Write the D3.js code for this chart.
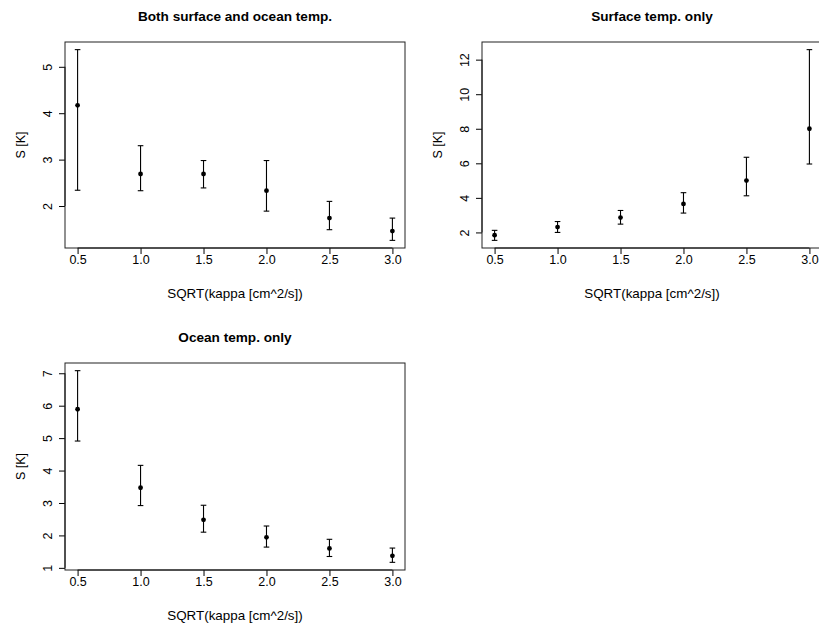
<!DOCTYPE html>
<html>
<head>
<meta charset="utf-8">
<script src="https://cdn.jsdelivr.net/npm/d3@7"></script>
<style>
  html, body { margin: 0; padding: 0; background: #fff; }
  svg { display: block; }
  text { font-family: "Liberation Sans", Arial, Helvetica, sans-serif; fill: #000; }
</style>
</head>
<body>
<svg id="fig" width="819" height="626"></svg>
<script>
// Diffusivity settings (x) shared by all three panels
const kappaSqrt = [0.5, 1.0, 1.5, 2.0, 2.5, 3.0];
const xTicks = [0.5, 1.0, 1.5, 2.0, 2.5, 3.0];

// Both surface and ocean temperature
const bothMid   = [4.17, 2.69, 2.69, 2.33, 1.74, 1.46];
const bothLow   = [2.34, 2.33, 2.39, 1.89, 1.49, 1.26];
const bothHigh  = [5.37, 3.30, 2.98, 2.98, 2.10, 1.74];
const bothTicks = [2, 3, 4, 5];

// Surface temperature only
const surfMid   = [1.84, 2.31, 2.86, 3.65, 5.00, 8.00];
const surfLow   = [1.54, 2.00, 2.48, 3.12, 4.12, 5.96];
const surfHigh  = [2.12, 2.63, 3.27, 4.30, 6.35, 12.58];
const surfTicks = [2, 4, 6, 8, 10, 12];

// Ocean temperature only
const oceanMid   = [5.89, 3.47, 2.48, 1.94, 1.60, 1.37];
const oceanLow   = [4.91, 2.92, 2.10, 1.64, 1.35, 1.17];
const oceanHigh  = [7.08, 4.16, 2.93, 2.29, 1.88, 1.61];
const oceanTicks = [1, 2, 3, 4, 5, 6, 7];

const titles = ["Both surface and ocean temp.", "Surface temp. only", "Ocean temp. only"];
const xLabel = "SQRT(kappa [cm^2/s])";
const yLabel = "S [K]";

const panels = [
  { title: titles[0], mid: bothMid,  low: bothLow,  high: bothHigh,  ticks: bothTicks,  x0: 65,  y0: 42,  w: 340, h: 206 },
  { title: titles[1], mid: surfMid,  low: surfLow,  high: surfHigh,  ticks: surfTicks,  x0: 482, y0: 42,  w: 340, h: 206 },
  { title: titles[2], mid: oceanMid, low: oceanLow, high: oceanHigh, ticks: oceanTicks, x0: 65,  y0: 363, w: 340, h: 207 }
];

const svg = d3.select("#fig");

// R-style axis range: data extent widened by 4% on each side
function padded(lo, hi) {
  const d = (hi - lo) * 0.04;
  return [lo - d, hi + d];
}

panels.forEach(p => {
  const g = svg.append("g").attr("transform", `translate(${p.x0},${p.y0})`);

  const x = d3.scaleLinear().domain(padded(d3.min(kappaSqrt), d3.max(kappaSqrt))).range([0, p.w]);
  const y = d3.scaleLinear().domain(padded(d3.min(p.low), d3.max(p.high))).range([p.h, 0]);

  // x axis
  const xAxis = d3.axisBottom(x).tickValues(xTicks).tickFormat(d3.format(".1f")).tickSize(6).tickPadding(3);
  const gx = g.append("g").attr("transform", `translate(0,${p.h})`).call(xAxis);
  gx.select(".domain").attr("d", `M${x(xTicks[0])},0H${x(xTicks[xTicks.length - 1])}`).attr("stroke", "#000");
  gx.selectAll(".tick line").attr("stroke", "#000");
  gx.selectAll(".tick text")
    .attr("font-family", "Liberation Sans, Arial, sans-serif")
    .attr("font-size", 12.5).attr("fill", "#000")
    .attr("dy", null).attr("y", 16);

  // y axis with labels turned parallel to the axis
  const yAxis = d3.axisLeft(y).tickValues(p.ticks).tickFormat(d3.format("d")).tickSize(6);
  const gy = g.append("g").call(yAxis);
  gy.select(".domain").attr("d", `M0,${y(p.ticks[0])}V${y(p.ticks[p.ticks.length - 1])}`).attr("stroke", "#000");
  gy.selectAll(".tick line").attr("stroke", "#000");
  gy.selectAll(".tick text")
    .attr("font-family", "Liberation Sans, Arial, sans-serif")
    .attr("font-size", 12.5).attr("fill", "#000")
    .attr("x", null).attr("dy", null)
    .attr("text-anchor", "middle")
    .attr("transform", "translate(-13.3,0) rotate(-90)");

  // plot frame
  g.append("rect")
    .attr("x", 0).attr("y", 0).attr("width", p.w).attr("height", p.h)
    .attr("fill", "none").attr("stroke", "#222").attr("stroke-width", 1);

  // error bars
  const idx = d3.range(kappaSqrt.length);
  const bars = g.append("g").attr("stroke", "#000").attr("stroke-width", 1.1);
  bars.selectAll("line.v").data(idx).join("line").attr("class", "v")
    .attr("x1", i => x(kappaSqrt[i])).attr("x2", i => x(kappaSqrt[i]))
    .attr("y1", i => y(p.low[i])).attr("y2", i => y(p.high[i]));
  bars.selectAll("line.top").data(idx).join("line").attr("class", "top")
    .attr("x1", i => x(kappaSqrt[i]) - 2.8).attr("x2", i => x(kappaSqrt[i]) + 2.8)
    .attr("y1", i => y(p.high[i])).attr("y2", i => y(p.high[i]));
  bars.selectAll("line.bot").data(idx).join("line").attr("class", "bot")
    .attr("x1", i => x(kappaSqrt[i]) - 2.8).attr("x2", i => x(kappaSqrt[i]) + 2.8)
    .attr("y1", i => y(p.low[i])).attr("y2", i => y(p.low[i]));

  // point estimates
  g.append("g").selectAll("circle").data(idx).join("circle")
    .attr("cx", i => x(kappaSqrt[i])).attr("cy", i => y(p.mid[i]))
    .attr("r", 2.4).attr("fill", "#000");

  // titles and axis labels
  g.append("text")
    .attr("x", p.w / 2).attr("y", -21)
    .attr("text-anchor", "middle").attr("font-weight", "bold").attr("font-size", 13.6)
    .text(p.title);
  g.append("text")
    .attr("x", p.w / 2).attr("y", p.h + 50)
    .attr("text-anchor", "middle").attr("font-size", 13.4)
    .text(xLabel);
  g.append("text")
    .attr("transform", `translate(-40,${p.h / 2}) rotate(-90)`)
    .attr("text-anchor", "middle").attr("font-size", 12.5)
    .text(yLabel);
});
</script>
</body>
</html>
